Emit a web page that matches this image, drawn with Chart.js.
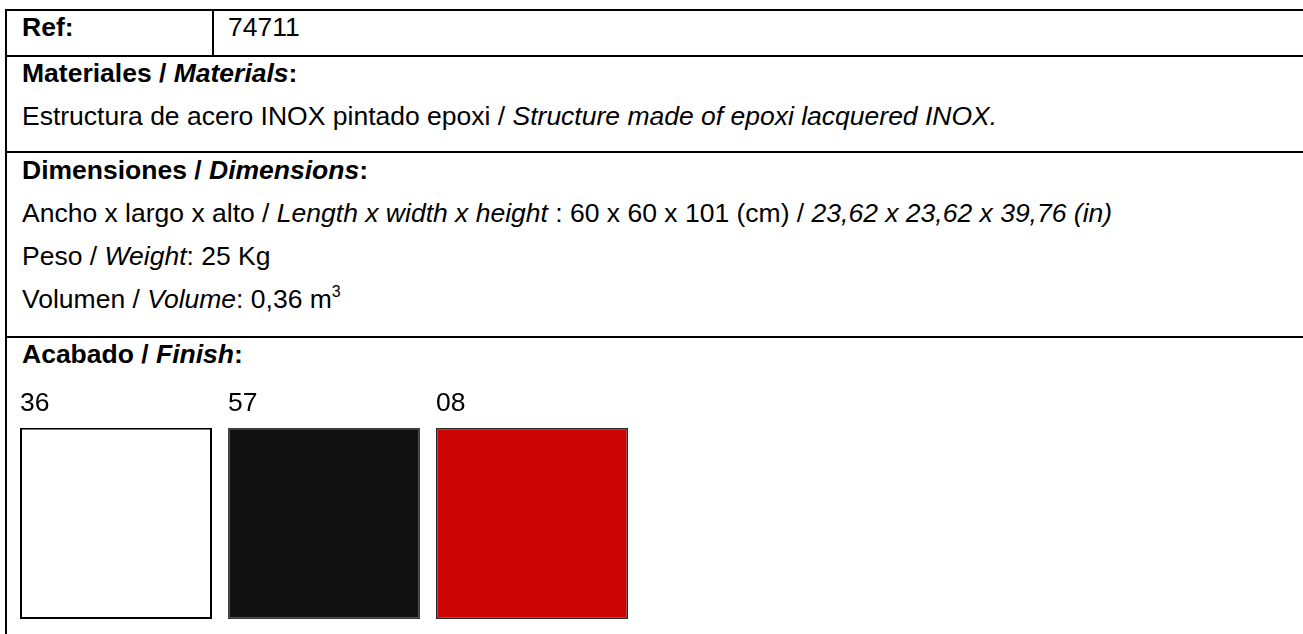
<!DOCTYPE html>
<html>
<head>
<meta charset="utf-8">
<title>74711</title>
<script src="https://cdn.jsdelivr.net/npm/chart.js@4.4.1/dist/chart.umd.min.js"></script>
<style>
  html, body { margin: 0; padding: 0; background: #fff; }
  body {
    position: relative; width: 1303px; height: 634px; overflow: hidden;
    font-family: "Liberation Sans", Arial, sans-serif; font-size: 26.5px; color: #000;
  }
  .hline { position: absolute; left: 5px; right: 0; height: 2px; background: #000; }
  .vline { position: absolute; width: 2px; background: #000; }
  .txt { position: absolute; left: 22px; line-height: 26.5px; white-space: nowrap; }
  .sup { position: relative; top: -11px; font-size: 16px; }
  #swatch-box { position: absolute; left: 12px; top: 380px; width: 624px; height: 254px; }
</style>
</head>
<body>
  <!-- table rules -->
  <div class="hline" style="top:9px"></div>
  <div class="hline" style="top:55px"></div>
  <div class="hline" style="top:151px"></div>
  <div class="hline" style="top:336px"></div>
  <div class="vline" style="left:5px; top:9px; height:625px"></div>
  <div class="vline" style="left:212px; top:9px; height:47px"></div>

  <div class="txt" style="top:14px"><b>Ref:</b></div>
  <div class="txt" style="top:14px; left:228px">74711</div>

  <div class="txt" style="top:60px"><b>Materiales / <i>Materials</i>:</b></div>
  <div class="txt" style="top:103px">Estructura de acero INOX pintado epoxi / <i>Structure made of epoxi lacquered INOX.</i></div>

  <div class="txt" style="top:157px"><b>Dimensiones / <i>Dimensions</i>:</b></div>
  <div class="txt" style="top:200px">Ancho x largo x alto / <i>Length x width x height</i> : 60 x 60 x 101 (cm) / <i>23,62 x 23,62 x 39,76 (in)</i></div>
  <div class="txt" style="top:243px">Peso / <i>Weight</i>: 25 Kg</div>
  <div class="txt" style="top:286px">Volumen / <i>Volume</i>: 0,36 m<span class="sup">3</span></div>

  <div class="txt" style="top:341px"><b>Acabado / <i>Finish</i>:</b></div>

  <div id="swatch-box"><canvas id="swatch-chart"></canvas></div>

<script>
// finish codes and one full-height swatch per code
const finishCodes = ['36', '57', '08'];
const swatchValues = [1, 1, 1];
const swatchColors = ['#ffffff', '#111111', '#cc0404'];

const swatchCanvas = document.getElementById('swatch-chart');
let swatchChart = new Chart(swatchCanvas, {
    type: 'bar',
    data: {
        labels: finishCodes,
        datasets: [{
            data: swatchValues,
            backgroundColor: swatchColors,
            borderColor: ['#000000', '#3a3a3a', '#262626'],
            borderWidth: [2, 1.5, 1.5],
            borderSkipped: false,
            barPercentage: 192 / 208,
            categoryPercentage: 1
        }]
    },
    options: {
        responsive: true,
        maintainAspectRatio: false,
        animation: false,
        layout: {
            padding: { top: 0, bottom: 15, left: 0, right: 0 }
        },
        scales: {
            x: {
                position: 'top',
                grid: { display: false, drawTicks: false },
                border: { display: false },
                ticks: {
                    align: 'start',
                    labelOffset: -96,
                    padding: 8,
                    color: '#000',
                    font: { family: 'Liberation Sans', size: 26.5 }
                }
            },
            y: {
                display: false,
                min: 0,
                max: 1
            }
        },
        plugins: {
            legend: { display: false },
            tooltip: { enabled: false }
        }
    }
});
</script>
</body>
</html>
